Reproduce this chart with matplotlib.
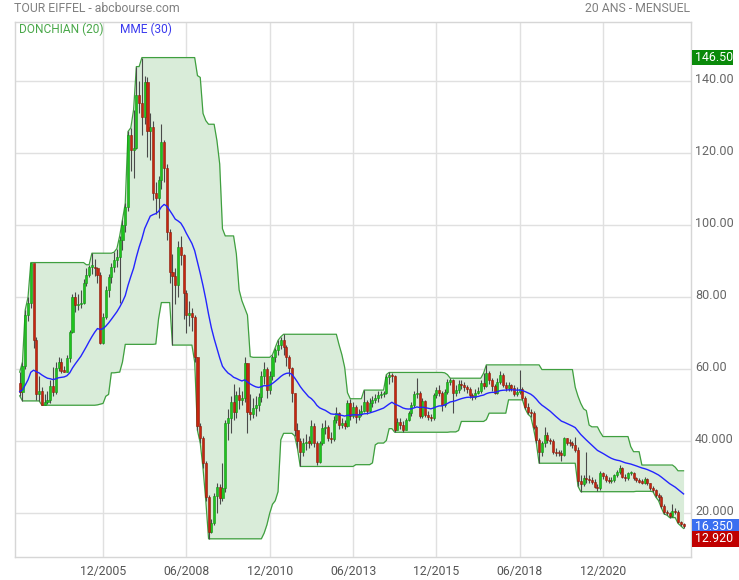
import numpy as np
import pandas as pd
import matplotlib
matplotlib.use("Agg")
import matplotlib.pyplot as plt
from matplotlib import transforms
from matplotlib.patches import Rectangle

plt.rcParams['font.family'] = ['Roboto', 'DejaVu Sans']

# ---------------- data (monthly candles, index 0 = 06/2003) ----------------
first_open = 56.1
closes = [
    53.8, 60.9, 75.1, 78.3, 89.4, 68.1, 53.1, 54.0, 50.1, 51.0,
    51.5, 55.2, 53.8, 60.2, 62.1, 59.6, 59.3, 63.0, 70.4, 80.1,
    77.8, 78.0, 78.5, 84.0, 86.2, 88.5, 88.5, 88.0, 86.2, 67.2,
    74.6, 82.0, 85.7, 88.5, 90.3, 91.2, 95.9, 100.0, 105.1, 125.0,
    120.9, 121.5, 136.1, 134.0, 130.1, 139.8, 126.0, 127.3, 108.8, 107.5,
    112.5, 123.2, 115.8, 98.2, 87.1, 86.0, 83.4, 94.0, 91.7, 81.1,
    75.1, 75.7, 74.6, 63.5, 44.1, 40.8, 33.9, 24.6, 14.9, 17.3,
    24.8, 27.4, 24.2, 27.0, 45.0, 46.4, 51.0, 48.2, 52.8, 51.5,
    52.0, 61.6, 48.2, 47.5, 49.1, 50.0, 52.4, 58.1, 60.0, 54.2,
    58.1, 63.3, 65.3, 66.7, 68.1, 66.3, 63.5, 60.2, 53.3, 43.1,
    40.0, 37.1, 39.4, 39.9, 39.6, 44.1, 39.4, 34.3, 39.4, 43.6,
    44.0, 41.0, 40.5, 45.9, 47.8, 44.5, 45.0, 44.2, 50.5, 47.0,
    49.6, 46.8, 47.5, 48.5, 50.8, 48.4, 50.5, 51.5, 52.0, 52.8,
    53.0, 53.5, 57.9, 58.5, 58.0, 43.1, 45.4, 44.5, 43.1, 45.9,
    47.8, 50.0, 53.0, 53.3, 47.0, 51.1, 47.3, 46.8, 46.4, 52.8,
    54.2, 53.5, 50.0, 53.7, 56.5, 57.0, 53.3, 54.2, 56.0, 55.5,
    55.0, 54.5, 52.8, 52.2, 53.5, 54.0, 56.1, 55.2, 58.9, 57.0,
    55.2, 53.5, 56.5, 58.5, 55.6, 54.7, 55.5, 54.7, 53.0, 53.8,
    54.5, 52.0, 49.6, 48.2, 47.8, 44.0, 40.4, 37.1, 39.4, 41.7,
    40.4, 40.0, 37.1, 36.8, 36.7, 36.2, 40.8, 39.6, 39.5, 39.0,
    37.6, 29.0, 28.0, 29.7, 29.5, 29.3, 28.8, 27.4, 26.9, 31.1,
    30.3, 29.3, 29.0, 29.2, 30.6, 31.6, 32.5, 30.2, 29.8, 31.1,
    31.3, 29.7, 29.3, 28.8, 28.5, 29.5, 28.3, 27.0, 26.5, 25.1,
    24.6, 21.9, 20.5, 20.0, 19.3, 20.6, 20.4, 17.5, 16.9, 16.35,
]
highs = [
    59.2, 62.0, 76.5, 80.0, 89.6, 89.0, 69.0, 58.0, 55.0, 53.0,
    54.0, 57.0, 60.5, 62.0, 63.5, 63.0, 61.0, 64.0, 71.0, 81.0,
    81.5, 81.0, 82.0, 85.0, 88.0, 89.0, 92.2, 90.5, 88.5, 87.0,
    75.5, 83.0, 86.5, 89.5, 92.5, 93.5, 97.0, 101.5, 106.0, 126.0,
    127.0, 132.0, 144.0, 140.0, 146.5, 141.5, 141.0, 131.0, 129.0, 112.0,
    113.5, 128.0, 123.5, 117.0, 99.0, 92.0, 88.0, 95.5, 97.0, 92.0,
    82.0, 79.0, 77.0, 75.0, 63.5, 45.0, 41.5, 34.5, 25.0, 18.5,
    25.5, 28.5, 28.0, 34.0, 46.0, 49.0, 52.5, 56.0, 54.0, 55.0,
    54.0, 63.3, 61.8, 53.0, 52.0, 52.5, 53.5, 59.5, 62.0, 60.5,
    59.5, 64.0, 66.0, 68.0, 69.0, 69.7, 66.7, 64.0, 60.5, 53.5,
    45.0, 41.0, 41.0, 42.0, 41.5, 46.0, 45.0, 40.0, 40.0, 45.0,
    46.0, 44.5, 42.5, 47.0, 49.5, 48.0, 46.5, 46.0, 51.5, 51.8,
    51.0, 50.0, 49.0, 50.0, 54.2, 51.5, 52.0, 52.5, 53.0, 54.0,
    54.0, 54.0, 58.5, 59.1, 59.0, 58.5, 46.5, 46.5, 45.5, 46.5,
    48.5, 51.0, 54.0, 57.5, 54.0, 52.0, 51.5, 48.5, 47.5, 53.5,
    55.0, 55.5, 54.0, 54.5, 57.2, 57.5, 57.3, 55.5, 57.0, 57.0,
    56.5, 55.5, 55.0, 53.5, 54.5, 55.0, 57.0, 58.9, 61.2, 59.5,
    57.5, 56.0, 57.5, 59.5, 59.0, 56.5, 56.5, 56.0, 55.5, 55.0,
    59.9, 55.0, 52.5, 50.5, 49.0, 48.5, 44.5, 41.0, 40.0, 44.0,
    42.5, 41.0, 40.5, 38.0, 37.5, 37.5, 41.3, 41.0, 40.5, 40.0,
    41.3, 38.5, 30.5, 30.5, 37.1, 30.5, 30.0, 29.5, 28.0, 31.8,
    31.5, 30.8, 30.0, 30.0, 31.0, 32.0, 33.4, 32.8, 30.8, 31.5,
    31.8, 31.5, 30.2, 29.8, 29.5, 30.0, 29.8, 28.5, 27.5, 26.8,
    25.5, 25.0, 22.5, 21.0, 20.5, 22.5, 21.5, 20.8, 18.0, 17.2,
]
lows = [
    52.6, 51.2, 60.0, 73.5, 77.0, 66.0, 51.5, 51.3, 50.0, 50.1,
    50.3, 50.5, 52.5, 53.0, 59.5, 59.0, 59.1, 59.2, 62.0, 70.0,
    76.0, 76.5, 77.0, 78.0, 83.0, 85.5, 86.5, 86.0, 84.0, 66.9,
    67.0, 74.0, 80.0, 84.0, 87.0, 88.5, 78.5, 93.0, 98.0, 104.0,
    115.0, 113.0, 121.0, 131.0, 125.0, 128.0, 119.0, 118.0, 107.0, 103.0,
    102.0, 110.0, 112.0, 96.0, 84.0, 66.7, 78.0, 80.0, 89.0, 74.0,
    70.0, 72.0, 70.5, 62.0, 43.0, 39.5, 32.5, 23.5, 12.92, 14.5,
    16.8, 20.0, 22.5, 23.5, 26.0, 40.4, 42.2, 46.0, 46.5, 49.0,
    50.0, 51.0, 42.2, 46.0, 46.5, 47.0, 48.5, 51.0, 56.0, 52.0,
    53.0, 57.0, 62.0, 64.0, 65.5, 64.0, 61.0, 58.0, 51.0, 41.5,
    38.0, 33.0, 36.0, 37.5, 38.0, 39.0, 38.5, 33.5, 34.0, 39.0,
    42.0, 40.0, 39.5, 40.2, 45.0, 43.5, 43.8, 43.5, 44.0, 46.0,
    46.5, 45.0, 46.0, 47.0, 48.0, 47.5, 48.0, 49.5, 50.5, 51.0,
    52.0, 52.2, 53.0, 56.0, 56.5, 42.5, 43.0, 43.5, 42.6, 43.0,
    45.5, 47.0, 49.5, 52.0, 46.5, 46.5, 46.8, 46.0, 45.5, 46.0,
    52.0, 52.5, 48.5, 49.5, 53.0, 55.5, 47.8, 52.5, 53.5, 54.5,
    54.0, 53.5, 52.0, 51.5, 51.8, 53.0, 53.5, 54.5, 55.0, 56.0,
    54.0, 53.0, 53.0, 56.0, 55.0, 54.0, 54.0, 54.0, 52.5, 52.5,
    53.0, 51.5, 49.0, 47.5, 46.8, 43.5, 39.5, 33.9, 36.0, 38.5,
    39.5, 39.2, 36.5, 36.0, 35.8, 34.5, 36.0, 39.0, 38.8, 38.2,
    37.0, 27.5, 26.0, 27.5, 28.5, 28.5, 28.0, 27.0, 26.1, 26.5,
    29.5, 28.8, 28.5, 28.5, 28.8, 30.0, 31.0, 29.8, 29.0, 29.3,
    30.5, 29.3, 28.8, 28.3, 28.0, 28.0, 27.8, 26.5, 26.0, 24.5,
    23.5, 21.5, 19.8, 19.5, 18.8, 19.0, 19.8, 17.2, 16.5, 15.8,
]
x_tick_pos = [30, 60, 90, 120, 150, 180, 210]
x_tick_labels = ['12/2005', '06/2008', '12/2010', '06/2013', '12/2015', '06/2018', '12/2020']
y_ticks = [20, 40, 60, 80, 100, 120, 140]
y_tick_labels = ['20.000', '40.000', '60.00', '80.00', '100.00', '120.00', '140.00']
title_left = 'TOUR EIFFEL - abcbourse.com'
title_right = '20 ANS - MENSUEL'
legend_donchian = 'DONCHIAN (20)'
legend_ema = 'MME (30)'

# ---------------- computations ----------------
opens = [first_open] + closes[:-1]
df = pd.DataFrame({'open': opens, 'high': highs, 'low': lows, 'close': closes})
idx = np.arange(len(df))
upper = df['high'].rolling(20, min_periods=1).max()
lower = df['low'].rolling(20, min_periods=1).min()
ema = df['close'].ewm(span=30, adjust=False).mean()

W, H = 739, 580
fig = plt.figure(figsize=(W / 100, H / 100), dpi=100)
fig.patch.set_facecolor('white')
ax = fig.add_axes([14.5 / W, 1 - 557 / H, 676 / W, 535 / H])
ax.set_xlim(-1.87, 241.5)
ax.set_ylim(7.87, 156.38)

grid_c = '#e0e0e0'
for xp in x_tick_pos:
    ax.axvline(xp, color=grid_c, lw=1.0, zorder=0)
for yv in y_ticks:
    ax.axhline(yv, color=grid_c, lw=1.0, zorder=0)

# Donchian channel
ax.fill_between(idx, lower, upper, color='#d9ecd9', lw=0, zorder=1)
ax.plot(idx, upper, color='#3f9f3f', lw=0.9, zorder=2)
ax.plot(idx, lower, color='#3f9f3f', lw=0.9, zorder=2)

# candles
o = df['open'].values
c = df['close'].values
up = c >= o
ax.vlines(idx, df['low'], df['high'], color='#4a4a4a', lw=0.8, zorder=3)
bottoms = np.minimum(o, c)
heights = np.maximum(np.abs(c - o), 0.35)
ax.bar(idx[up], heights[up], bottom=bottoms[up], width=0.75,
       color='#1ec41e', edgecolor='#138f13', linewidth=0.4, zorder=4)
ax.bar(idx[~up], heights[~up], bottom=bottoms[~up], width=0.75,
       color='#c8250f', edgecolor='#8a1a0a', linewidth=0.4, zorder=4)

# EMA
ax.plot(idx, ema, color='#2424ff', lw=1.0, zorder=5)

# frame / ticks
for s in ax.spines.values():
    s.set_color('#d6d6d6')
    s.set_linewidth(1.0)
ax.set_xticks(x_tick_pos)
ax.set_xticklabels(x_tick_labels, fontsize=8.8, color='#555555')
ax.tick_params(axis='x', length=0, pad=6)
ax.set_yticks([])

# right-side labels
ytrans = ax.get_yaxis_transform() + transforms.ScaledTranslation(4.5 / 100, 2 / 100, fig.dpi_scale_trans)
for yv, lab in zip(y_ticks, y_tick_labels):
    ax.text(1.0, yv, lab, transform=ytrans, ha='left', va='center',
            fontsize=9.0, color='#666666', clip_on=False)

# value boxes
bt = transforms.blended_transform_factory(transforms.IdentityTransform(), ax.transData)
box_h = 15.5 / 3.6025
max_high = max(highs)
min_low = min(lows)
last_close = closes[-1]
boxes = [(max_high, '{:.2f}'.format(max_high), '#0a8a0a', 733),
         (last_close, '{:.3f}'.format(last_close), '#3a6ff0', 739),
         (min_low, '{:.3f}'.format(min_low), '#c00000', 739)]
for val, txt, col, xr in boxes:
    ax.add_patch(Rectangle((692, val - box_h / 2), xr - 692, box_h, transform=bt,
                           facecolor=col, edgecolor='none', clip_on=False, zorder=6))
    ax.text(695, val, txt, transform=bt, ha='left', va='center', fontsize=8.9,
            color='white', clip_on=False, zorder=7)

# titles & legend
fig.text(14 / W, 1 - 9 / H, title_left, ha='left', va='center', fontsize=8.8, color='#808080')
fig.text(690 / W, 1 - 9 / H, title_right, ha='right', va='center', fontsize=8.8, color='#808080')
fig.text(19 / W, 1 - 29 / H, legend_donchian, ha='left', va='center', fontsize=8.6, color='#4aa84a')
fig.text(120 / W, 1 - 29 / H, legend_ema, ha='left', va='center', fontsize=8.6, color='#3a3aee')

fig.savefig('out.png', dpi=100, facecolor='white')
